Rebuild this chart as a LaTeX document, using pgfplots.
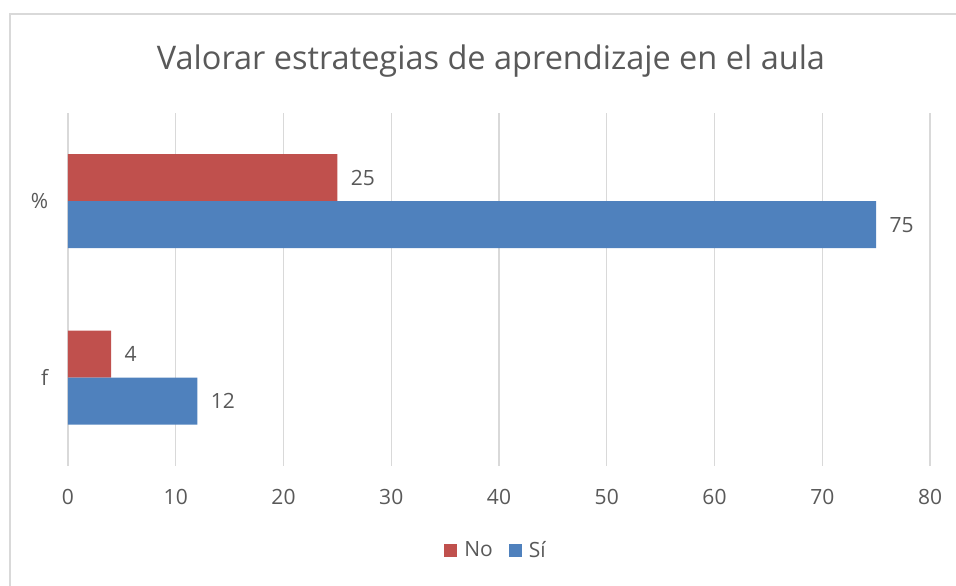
\documentclass[border=0pt]{standalone}
\usepackage{pgfplots}
\pgfplotsset{compat=1.18}
\usepackage{fontspec}
\setmainfont{Open Sans}
\definecolor{cNo}{HTML}{C0504D}
\definecolor{cSi}{HTML}{4F81BD}
\definecolor{txt}{HTML}{595959}
\definecolor{grd}{HTML}{D9D9D9}
\begin{document}
\begin{tikzpicture}
\useasboundingbox (0pt,0pt) rectangle (956pt,586pt);
\draw[grd, line width=1.5pt] (10pt,0pt) -- (10pt,572pt) -- (960pt,572pt);
\node[font=\fontsize{32.5}{36}\selectfont, text=txt] at (491pt,525pt) {Valorar estrategias de aprendizaje en el aula};
\begin{axis}[
  at={(68pt,120pt)}, anchor=south west,
  width=862pt, height=353pt, scale only axis,
  xbar, xmin=0, xmax=80, ymin=-0.5, ymax=1.5,
  bar width=47pt,
  xtick={0,10,...,80}, ytick={0,1}, yticklabels={f,\%},
  xmajorgrids, major grid style={grd, line width=1.3pt},
  axis line style={draw=none},
  tick style={draw=none},
  ticklabel style={font=\fontsize{21}{24}\selectfont, text=txt},
  xticklabel style={yshift=-20pt},
  yticklabel style={xshift=-12pt},
  /pgf/number format/assume math mode=true,
  nodes near coords,
  every node near coord/.append style={font=\fontsize{21}{24}\selectfont, text=txt, xshift=10pt},
  legend style={at={(0.4965,-0.238)}, anchor=center, draw=none, fill=none, legend columns=2,
    font=\fontsize{21}{24}\selectfont, text=txt,
    /tikz/every odd column/.append style={column sep=5pt},
    /tikz/every even column/.append style={column sep=14pt}},
  legend image code/.code={\fill[#1] (0pt,-6.5pt) rectangle (13pt,6.5pt);},
]
\addplot[fill=cNo, draw=none, bar shift=23.5pt] coordinates {(4,0) (25,1)};
\addplot[fill=cSi, draw=none, bar shift=-23.5pt] coordinates {(12,0) (75,1)};
\legend{No, Sí}
\end{axis}
\end{tikzpicture}
\end{document}
